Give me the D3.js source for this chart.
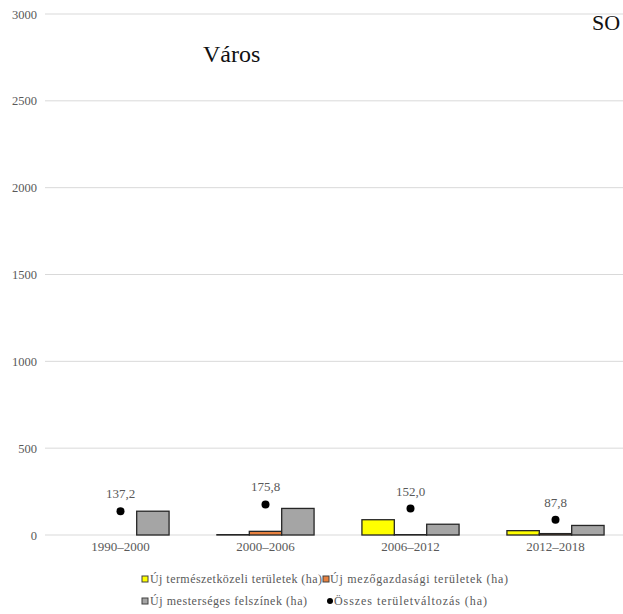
<!DOCTYPE html>
<html><head><meta charset="utf-8">
<script src="https://cdn.jsdelivr.net/npm/d3@7/dist/d3.min.js"></script>
<style>body{margin:0;background:#fff;} svg{display:block;} svg text{font-family:"Liberation Serif","DejaVu Serif",serif;}</style>
</head><body>
<svg id="c" width="623" height="614"></svg>
<script>
const categories = ["1990–2000", "2000–2006", "2006–2012", "2012–2018"];
const seriesNames = ["Új természetközeli területek (ha)", "Új mezőgazdasági területek (ha)", "Új mesterséges felszínek (ha)"];
const natural = [0, 2, 88, 25];
const agricultural = [0, 21, 2, 8];
const artificial = [137, 153, 62, 55];
const totalChange = [137.2, 175.8, 152.0, 87.8];
const totalName = "Összes területváltozás (ha)";
const yTicks = [0, 500, 1000, 1500, 2000, 2500, 3000];
const colors = ["#FFFF00", "#E8813F", "#A5A5A5"];

const svg = d3.select("#c");
const x = d3.scaleBand().domain(categories).range([48, 628]).paddingInner(0.33).paddingOuter(0.165);
const y = d3.scaleLinear().domain([0, 3000]).range([535, 14]);
const xs = d3.scaleBand().domain([0,1,2]).range([0, x.bandwidth()]);

// gridlines
svg.append("g").selectAll("line").data(yTicks).join("line")
  .attr("x1", 45).attr("x2", 623).attr("y1", d => y(d)).attr("y2", d => y(d))
  .attr("stroke", "#d9d9d9").attr("stroke-width", 1);

// y axis labels
const yAxis = d3.axisLeft(y).tickValues(yTicks).tickFormat(d3.format("d")).tickSize(0).tickPadding(0);
const ga = svg.append("g").attr("transform", "translate(37,0)").call(yAxis);
ga.attr("font-family", null);
ga.select(".domain").remove();
ga.selectAll("text").attr("font-size", 12.5).attr("fill", "#595959");

// x axis labels
const xAxis = d3.axisBottom(x).tickSize(0).tickPadding(0);
const gx = svg.append("g").attr("transform", "translate(0,542)").call(xAxis);
gx.attr("font-family", null);
gx.select(".domain").remove();
gx.selectAll("text").attr("font-size", 13).attr("fill", "#595959");

const series = [natural, agricultural, artificial];
series.forEach((vals, si) => {
  svg.append("g").selectAll("rect").data(categories).join("rect")
    .attr("x", (c) => x(c) + xs(si))
    .attr("width", xs.bandwidth())
    .attr("y", (c, i) => y(vals[i]))
    .attr("height", (c, i) => y(0) - y(vals[i]))
    .attr("fill", colors[si])
    .attr("stroke", (c, i) => vals[i] > 0 ? "#262626" : "none")
    .attr("stroke-width", 1.3);
});

// total dots
const cx = c => x(c) + x.bandwidth() / 2;
svg.append("g").selectAll("circle").data(categories).join("circle")
  .attr("cx", c => cx(c)).attr("cy", (c, i) => y(totalChange[i]))
  .attr("r", 4).attr("fill", "#000");
svg.append("g").selectAll("text").data(categories).join("text")
  .attr("x", c => cx(c)).attr("y", (c, i) => y(totalChange[i]) - 13)
  .attr("text-anchor", "middle").attr("font-size", 13)
  .attr("fill", "#595959")
  .text((c, i) => d3.format(".1f")(totalChange[i]).replace(".", ","));

// titles
svg.append("text").attr("x", 203).attr("y", 62)
  .attr("font-size", 24).attr("fill", "#111").text("Város");
svg.append("text").attr("x", 592).attr("y", 30)
  .attr("font-size", 22).attr("fill", "#111").text("SO");

// legend
const leg = svg.append("g").attr("font-size", 12).attr("fill", "#595959");
const items = [
  {type: "rect", color: colors[0], label: seriesNames[0], x: 142, y: 579, tx: 150, w: 172},
  {type: "rect", color: colors[1], label: seriesNames[1], x: 323, y: 579, tx: 330, w: 178},
  {type: "rect", color: colors[2], label: seriesNames[2], x: 142, y: 601, tx: 150, w: 157},
  {type: "dot", color: "#000", label: totalName, x: 327, y: 601, tx: 334, w: 153}
];
items.forEach(it => {
  if (it.type === "rect") {
    leg.append("rect").attr("x", it.x).attr("y", it.y - 3).attr("width", 6).attr("height", 6)
      .attr("fill", it.color).attr("stroke", "#404040").attr("stroke-width", 1);
  } else {
    leg.append("circle").attr("cx", it.x + 3).attr("cy", it.y).attr("r", 3).attr("fill", it.color);
  }
  leg.append("text").attr("x", it.tx).attr("y", it.y + 4)
    .attr("textLength", it.w).attr("lengthAdjust", "spacing").text(it.label);
});
</script>
</body></html>
